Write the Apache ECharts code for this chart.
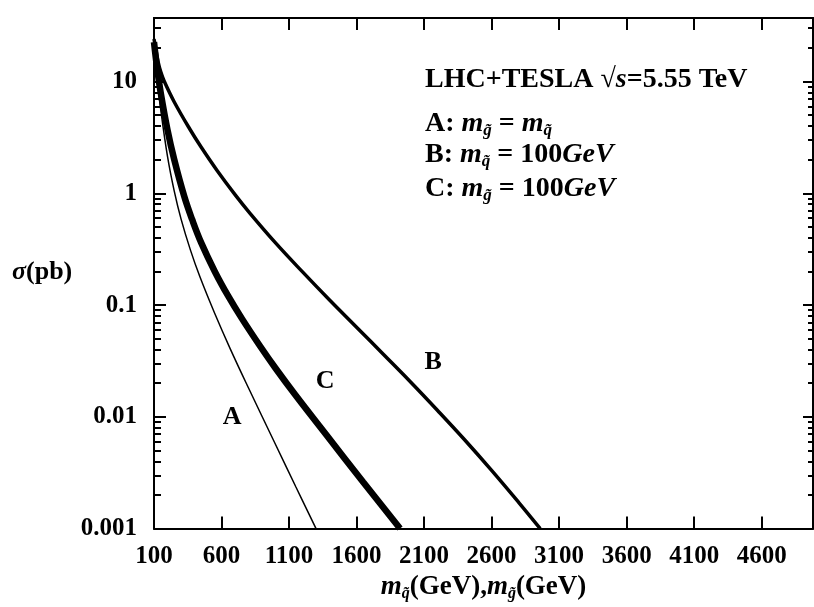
<!DOCTYPE html>
<html>
<head>
<meta charset="utf-8">
<title>LHC+TESLA</title>
<script src="https://cdn.jsdelivr.net/npm/echarts@6/dist/echarts.min.js"></script>
</head>
<body style="margin:0;background:#fff">
<div id="main" style="width:814px;height:607px;"></div>
<script>
// curve A: m_gluino = m_squark
var massA = [100, 125, 150, 200, 250, 300, 370, 440, 550, 663, 800, 1000, 1150, 1300];
var sigmaA = [22, 10.2, 5.6, 2.14, 1.045, 0.59, 0.31, 0.179, 0.084, 0.041, 0.0181, 0.00565, 0.00237, 0.001];
// curve B: m_squark = 100 GeV
var massB = [100, 115, 130, 150, 175, 250, 367, 450, 567, 700, 811, 1000, 1200, 1400, 1600, 1800, 2000, 2200, 2400, 2600, 2800, 2960];
var sigmaB = [24, 19, 15.1, 12.2, 10.1, 6.56, 3.72, 2.58, 1.6, 0.973, 0.662, 0.36, 0.198, 0.111, 0.0634, 0.0361, 0.0205, 0.0114, 0.00624, 0.00332, 0.00172, 0.001];
// curve C: m_gluino = 100 GeV
var massC = [100, 125, 150, 200, 250, 325, 383, 450, 550, 650, 750, 885, 1000, 1150, 1380, 1650, 1922];
var sigmaC = [22.5, 12.6, 7.9, 3.7, 2.0, 0.93, 0.58, 0.36, 0.2, 0.12, 0.076, 0.043, 0.0272, 0.0155, 0.0068, 0.0026, 0.001];

var xTicks = [100, 600, 1100, 1600, 2100, 2600, 3100, 3600, 4100, 4600];
var yTicks = [0.001, 0.01, 0.1, 1, 10];
var yMinor = [];
yTicks.forEach(function (d) {
  for (var k = 2; k <= 9; k++) yMinor.push(+(d * k).toPrecision(3));
});

var curveLabels = [['A', 678, 0.01], ['C', 1367, 0.021], ['B', 2167, 0.0305]];

function pairs(xs, ys) {
  return xs.map(function (x, i) { return [x, ys[i]]; });
}

var FONT = 'Liberation Serif';
var black = '#000';
var xMin = 100, xMax = 4980, yMin = 0.001, yMax = 37;

var chart = echarts.init(document.getElementById('main'));

function subStyle(size) {
  return { fontFamily: FONT, fontStyle: 'italic', fontWeight: 'bold', fontSize: size, padding: [14, 0, 0, 0] };
}
function italStyle(size) {
  return { fontFamily: FONT, fontStyle: 'italic', fontWeight: 'bold', fontSize: size };
}

function yAxisDef(pos, ticks, len, labels) {
  return {
    type: 'log', logBase: 10, min: yMin, max: yMax, position: pos,
    axisLine: { show: true, lineStyle: { color: black, width: 2 } },
    axisTick: { show: true, inside: true, length: len, customValues: ticks, lineStyle: { color: black, width: 2 } },
    axisLabel: labels ? {
      show: true, customValues: yTicks, margin: 17,
      fontFamily: FONT, fontSize: 25, fontWeight: 'bold', color: black,
      formatter: function (v) { return String(+(+v).toPrecision(1)); }
    } : { show: false },
    splitLine: { show: false }, minorTick: { show: false }
  };
}

function xAxisDef(pos, labels) {
  return {
    type: 'value', min: xMin, max: xMax, interval: 500, position: pos,
    axisLine: { show: true, lineStyle: { color: black, width: 2 } },
    axisTick: { show: true, inside: true, length: 12, customValues: xTicks, lineStyle: { color: black, width: 2 } },
    axisLabel: labels ? {
      show: true, customValues: xTicks, margin: 15,
      fontFamily: FONT, fontSize: 25, fontWeight: 'bold', color: black,
      formatter: function (v) { return String(Math.round(v)); }
    } : { show: false },
    splitLine: { show: false },
    name: labels ? '{i|m}{s|q\u0303}(GeV),{i|m}{s|g\u0303}(GeV)' : '',
    nameLocation: 'middle', nameGap: 36,
    nameTextStyle: {
      fontFamily: FONT, fontSize: 27, fontWeight: 'bold', color: black,
      rich: { i: italStyle(27), s: subStyle(16) }
    }
  };
}

function lineSeries(name, xs, ys, w) {
  return {
    name: name, type: 'line', data: pairs(xs, ys),
    showSymbol: false, smooth: 0.4, clip: true,
    lineStyle: { color: black, width: w }
  };
}

function legendLine(txt, y) {
  return {
    type: 'text', left: 425, top: y,
    style: {
      text: txt, fill: black, font: 'bold 28px ' + FONT,
      rich: { i: italStyle(28), s: subStyle(17), r: { fontFamily: FONT, fontSize: 28, fontWeight: 'bold' } }
    }
  };
}

chart.setOption({
  animation: false,
  grid: { left: 154, right: 1, top: 18, bottom: 75 },
  xAxis: [xAxisDef('bottom', true), xAxisDef('top', false)],
  yAxis: [
    yAxisDef('left', yTicks, 12, true),
    yAxisDef('left', yMinor, 7, false),
    yAxisDef('right', yTicks, 10, false),
    yAxisDef('right', yMinor, 5, false)
  ],
  series: [
    lineSeries('A', massA, sigmaA, 1.5),
    lineSeries('B', massB, sigmaB, 3.5),
    lineSeries('C', massC, sigmaC, 6.5),
    {
      type: 'scatter', symbolSize: 0,
      itemStyle: { opacity: 1 },
      data: curveLabels.map(function (c) { return [c[1], c[2], c[0]]; }),
      label: {
        show: true, position: 'inside', color: black, opacity: 1,
        fontFamily: FONT, fontSize: 26, fontWeight: 'bold',
        formatter: function (p) { return p.value[2]; }
      }
    }
  ],
  graphic: [
    legendLine('LHC+TESLA {r|\u221A}{i|s}=5.55 TeV', 66),
    legendLine('A: {i|m}{s|g\u0303} = {i|m}{s|q\u0303}', 110),
    legendLine('B: {i|m}{s|q\u0303} = 100{i|GeV}', 141),
    legendLine('C: {i|m}{s|g\u0303} = 100{i|GeV}', 175),
    {
      type: 'text', left: 12, top: 259,
      style: {
        text: '{i|\u03C3}(pb)', fill: black, font: 'bold 26px ' + FONT,
        rich: { i: italStyle(26) }
      }
    }
  ]
});
</script>
</body>
</html>
